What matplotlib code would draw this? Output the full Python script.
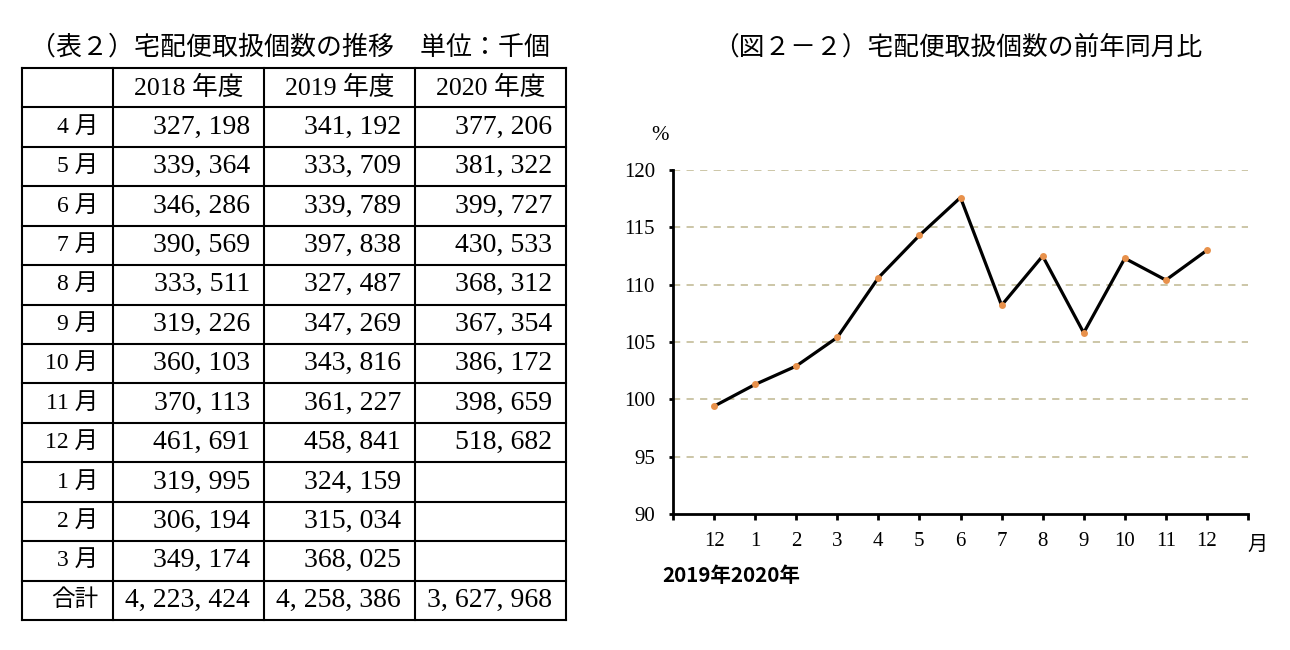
import matplotlib
matplotlib.use("Agg")
import matplotlib.pyplot as plt

plt.rcParams['font.family'] = ['Liberation Serif', 'Noto Sans CJK JP', 'DejaVu Sans']

# ---------------- data ----------------
table_title = "（表２）宅配便取扱個数の推移　単位：千個"
chart_title = "（図２－２）宅配便取扱個数の前年同月比"
col_headers = ["2018 年度", "2019 年度", "2020 年度"]
row_labels = ["4 月", "5 月", "6 月", "7 月", "8 月", "9 月", "10 月", "11 月",
              "12 月", "1 月", "2 月", "3 月"]
fy2018 = [327198, 339364, 346286, 390569, 333511, 319226, 360103, 370113,
          461691, 319995, 306194, 349174]
fy2019 = [341192, 333709, 339789, 397838, 327487, 347269, 343816, 361227,
          458841, 324159, 315034, 368025]
fy2020 = [377206, 381322, 399727, 430533, 368312, 367354, 386172, 398659,
          518682, None, None, None]
total_label = "合計"
totals = [4223424, 4258386, 3627968]

month_ticks = ["12", "1", "2", "3", "4", "5", "6", "7", "8", "9", "10", "11", "12"]
yoy_ratio = [99.4, 101.3, 102.9, 105.4, 110.6, 114.3, 117.6, 108.2, 112.5,
             105.8, 112.3, 110.4, 113.0]
y_ticks = [90, 95, 100, 105, 110, 115, 120]

# ---------------- figure ----------------
W, H = 1290, 650
fig = plt.figure(figsize=(W / 100, H / 100), dpi=100)
fig.patch.set_facecolor('white')

# overlay axes in pixel coordinates (for the table and free texts)
ov = fig.add_axes([0, 0, 1, 1])
ov.set_xlim(0, W)
ov.set_ylim(H, 0)
ov.axis('off')


def fmt(v):
    if v is None:
        return ""
    return f"{v:,}".replace(",", ", ")


# table geometry
col_x = [22, 113, 264, 415, 566]
top, bottom = 68, 620
nrows = 14
row_h = (bottom - top) / nrows
lw_t = 1.5

for x in col_x:
    ov.plot([x, x], [top, bottom], color='black', lw=lw_t, solid_capstyle='projecting')
for i in range(nrows + 1):
    y = top + i * row_h
    ov.plot([col_x[0], col_x[-1]], [y, y], color='black', lw=lw_t, solid_capstyle='projecting')

fs_num = 20
fs_lab = 17
fs_head = 18.5
ov.text(30, 47, table_title, fontsize=18.7, ha='left', va='center')

# header
yc = top + row_h / 2
for j, h in enumerate(col_headers):
    ov.text((col_x[j + 1] + col_x[j + 2]) / 2, yc, h, fontsize=fs_head, ha='center', va='center')

cols = [fy2018, fy2019, fy2020]
for i, lab in enumerate(row_labels):
    yc = top + (i + 1.5) * row_h
    ov.text(col_x[1] - 15, yc, lab, fontsize=fs_lab, ha='right', va='center')
    for j, col in enumerate(cols):
        ov.text(col_x[j + 2] - 14, yc, fmt(col[i]), fontsize=fs_num, ha='right', va='center')

yc = top + (nrows - 0.5) * row_h
ov.text(col_x[1] - 15, yc, total_label, fontsize=fs_lab, ha='right', va='center')
for j, v in enumerate(totals):
    ov.text(col_x[j + 2] - 14, yc, fmt(v), fontsize=fs_num, ha='right', va='center')

# ---------------- chart ----------------
ax_l, ax_r, ax_t, ax_b = 673, 1248, 170, 514
ax = fig.add_axes([ax_l / W, (H - ax_b) / H, (ax_r - ax_l) / W, (ax_b - ax_t) / H])
ax.set_facecolor('none')
x = list(range(len(yoy_ratio)))
ax.plot(x, yoy_ratio, color='black', lw=2.3, zorder=3,
        marker='o', markersize=5, markerfacecolor='#E8914B',
        markeredgecolor='#E8914B', markeredgewidth=0)
ax.set_xlim(-1, len(yoy_ratio))
ax.set_ylim(90, 120)

ax.set_yticks(y_ticks)
ax.set_yticklabels([str(v) for v in y_ticks], fontsize=15)
ax.set_xticks(list(range(-1, len(yoy_ratio) + 1)))
ax.set_xticklabels([""] + month_ticks + [""], fontsize=15)

for yv in y_ticks[1:]:
    ax.axhline(yv, color='#C8C2A0', lw=1.3, ls=(0, (4, 3.5)), zorder=1)

for s in ['top', 'right']:
    ax.spines[s].set_visible(False)
for s in ['left', 'bottom']:
    ax.spines[s].set_linewidth(2.0)
    ax.spines[s].set_color('black')
ax.tick_params(axis='y', direction='out', length=3, width=2, pad=10)
ax.tick_params(axis='x', direction='out', length=4, width=2, pad=9)

ov.text(958, 47, chart_title, fontsize=18.5, ha='center', va='center')
ov.text(660, 135, "%", fontsize=15, ha='center', va='center')
ov.text(1258, 545, "月", fontsize=14.5, ha='center', va='center')
ov.text(662, 575, "2019年2020年", fontsize=14.8, fontweight='bold', ha='left', va='center',
        family=['Noto Sans CJK JP', 'DejaVu Sans'])

fig.savefig("out.png", dpi=100)
